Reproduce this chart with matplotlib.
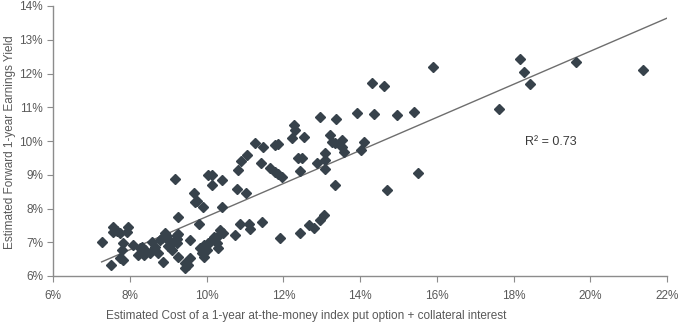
import numpy as np
import matplotlib
matplotlib.use('Agg')
import matplotlib.pyplot as plt
from matplotlib.ticker import FuncFormatter

# Estimated cost of put option + collateral interest (%)
cost = [7.26, 7.56, 7.66, 7.56, 7.74, 7.96, 7.91, 7.83, 7.78, 8.07,
        7.74, 7.83, 7.50, 8.26, 8.22, 8.39, 8.57, 8.65, 8.78, 8.91,
        8.97, 8.74, 8.52, 8.87, 9.09, 9.22, 9.26,
        9.81, 8.96, 8.83, 9.26, 9.22, 9.13, 9.56, 8.30, 8.37, 9.00,
        9.26, 9.56, 9.43, 9.52, 9.83, 9.92, 9.87, 10.09, 10.22, 10.35,
        10.42, 10.31, 10.00, 9.92,
        9.69, 9.89, 10.39, 9.22, 10.18, 10.26, 10.04, 10.30, 10.74, 10.87,
        11.09, 11.13, 11.43, 9.43,
        9.17, 9.66, 9.74, 10.04, 10.13, 10.13, 10.39, 10.78, 11.03, 10.81,
        10.89, 11.06, 11.26, 11.48, 11.42,
        11.78, 11.87, 12.27, 12.31, 12.22, 12.53, 12.95, 13.37, 13.22, 13.26,
        13.35, 13.52, 13.57, 11.65, 11.78, 11.95, 11.86, 12.39, 12.48, 12.42,
        12.87, 13.09, 13.09, 13.09, 13.35,
        11.91, 12.42, 12.66, 12.79, 12.95, 13.05,
        15.89, 14.32, 14.62, 13.93, 14.35, 14.95, 15.41, 13.52, 14.09, 14.02,
        15.52, 14.71,
        18.16, 18.27, 18.43, 19.62, 21.37, 17.61]

# Estimated forward 1-year earnings yield (%)
yield_ = [7.02, 7.45, 7.33, 7.30, 7.27, 7.46, 7.31, 6.97, 6.77, 6.92,
          6.52, 6.47, 6.33, 6.82, 6.62, 6.77, 7.02, 6.87, 7.07, 7.27,
          7.09, 6.67, 6.67, 6.42, 6.77, 6.97, 7.76,
          7.53, 7.19, 7.12, 7.24, 7.10, 7.02, 7.07, 6.87, 6.62, 6.90,
          6.57, 6.52, 6.23, 6.33, 6.82, 6.92, 6.67, 7.02, 7.12, 7.36,
          7.27, 7.21, 6.77, 6.57,
          8.20, 8.04, 8.05, 7.21, 7.16, 6.97, 6.97, 6.82, 7.21, 7.54,
          7.54, 7.38, 7.61, 6.38,
          8.86, 8.47, 8.23, 8.99, 8.99, 8.70, 8.84, 8.57, 8.47, 9.14,
          9.42, 9.58, 9.93, 9.83, 9.36,
          9.88, 9.91, 10.47, 10.33, 10.08, 10.13, 10.70, 10.64, 10.18, 9.98,
          9.93, 9.83, 9.68, 9.19, 9.09, 8.94, 9.02, 9.49, 9.49, 9.12,
          9.36, 9.64, 9.44, 9.16, 8.70,
          7.12, 7.28, 7.51, 7.41, 7.66, 7.81,
          12.20, 11.73, 11.63, 10.82, 10.80, 10.77, 10.87, 10.03, 9.98, 9.73,
          9.04, 8.55,
          12.42, 12.04, 11.69, 12.33, 12.10, 10.95]

# linear trend line as shown on the chart (slope, intercept, x range)
trend_slope = 0.49
trend_icpt = 2.86
trend_x = [7.26, 22.0]
r2_label = 'R² = 0.73'

x_ticks = [6, 8, 10, 12, 14, 16, 18, 20, 22]
y_ticks = [6, 7, 8, 9, 10, 11, 12, 13, 14]

plt.rcParams['font.family'] = ['Liberation Sans', 'DejaVu Sans']

fig = plt.figure(figsize=(6.8, 3.26), dpi=100)
ax = fig.add_axes([53.3 / 680, 1 - 276 / 326, (667 - 53.3) / 680, 270 / 326])

ax.plot(cost, yield_, linestyle='none', marker='D', markersize=5.0,
        color='#37424b', zorder=3)

tx = np.array(trend_x)
ax.plot(tx, trend_slope * tx + trend_icpt, color='#6e6e6e', linewidth=1.0, zorder=2)

ax.text(18.3, 9.97, r2_label, fontsize=9, color='#3a3a3a',
        ha='left', va='center')

ax.set_xlim(6, 22)
ax.set_ylim(6, 14)
ax.set_xticks(x_ticks)
ax.set_yticks(y_ticks)
ax.xaxis.set_major_formatter(FuncFormatter(lambda v, p: '%d%%' % v))
ax.yaxis.set_major_formatter(FuncFormatter(lambda v, p: '%d%%' % v))

for s in ['top', 'right']:
    ax.spines[s].set_visible(False)
for s in ['left', 'bottom']:
    ax.spines[s].set_color('#8c8c8c')
    ax.spines[s].set_linewidth(1.0)

ax.tick_params(axis='both', direction='out', length=4, color='#8c8c8c',
               labelsize=8.5, labelcolor='#595959')
ax.tick_params(axis='x', pad=6)

fig.text(10 / 680, 1 - 142 / 326, 'Estimated Forward 1-year Earnings Yield',
         fontsize=8.5, color='#595959', rotation=90, ha='center', va='center')
fig.text(306 / 680, 1 - 316 / 326,
         'Estimated Cost of a 1-year at-the-money index put option + collateral interest',
         fontsize=8.5, color='#595959', ha='center', va='center')

fig.savefig('out.png', dpi=100)
